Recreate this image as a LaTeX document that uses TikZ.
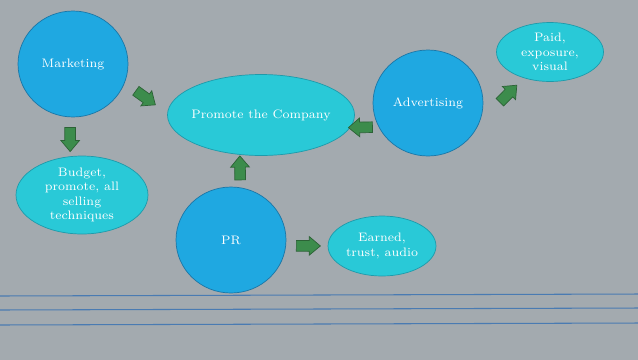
\documentclass[tikz,border=0pt]{standalone}
\usetikzlibrary{shapes.geometric, shapes.arrows}
\definecolor{slidebg}{HTML}{A3AAAF}
\definecolor{bubblefill}{HTML}{1FA8E1}
\definecolor{bubbleline}{HTML}{1B76A6}
\definecolor{ovalfill}{HTML}{29C9D7}
\definecolor{ovalline}{HTML}{1E9AAA}
\definecolor{arrfill}{HTML}{3C8C4C}
\definecolor{arrline}{HTML}{2C6236}
\definecolor{rule}{HTML}{4A7BB2}

\begin{document}
\begin{tikzpicture}[x=0.02cm, y=-0.02cm, font=\fontsize{7}{8.2}\selectfont,
    bubble/.style={draw=bubbleline, fill=bubblefill, ellipse, minimum width=2.2cm, minimum height=2.12cm, text=white, inner sep=0pt},
    oval/.style={draw=ovalline, fill=ovalfill, ellipse, text=white, align=center, inner sep=-2pt},
    blockarr/.style={single arrow, draw=arrline, fill=arrfill, minimum height=0.48cm,
        single arrow head extend=0.08cm, single arrow tip angle=80, inner xsep=0pt, inner ysep=0.1cm, sloped, allow upside down}]
    % slide background
    \useasboundingbox (0,0) rectangle (638,359);
    \fill[slidebg] (-2,-2) rectangle (640,361);
    \foreach \y/\yy in {296/294, 310/308, 325/323}
        \draw[rule, line width=0.6pt] (-2,\y) -- (640,\yy);

    \node[bubble] (mkt) at (73,64) {Marketing};
    \node[oval, minimum width=3.56cm, minimum height=1.62cm] (prom) at (261,115) {Promote the Company};
    \node[bubble] (adv) at (428,103) {Advertising};
    \node[oval, minimum width=2.14cm, minimum height=1.18cm] (paid) at (550,52) {Paid,\\exposure,\\visual};
    \node[oval, minimum width=2.64cm, minimum height=1.56cm] (bud) at (82,195) {Budget,\\promote, all\\selling\\techniques};
    \node[bubble] (pr) at (231,240) {PR};
    \node[oval, minimum width=2.16cm, minimum height=1.2cm] (ern) at (382,246) {Earned,\\trust, audio};

    % block arrows
    \path (mkt.-20) -- node[blockarr, pos=0.43] (a1) {} (prom.179);
    \path (mkt.-93) -- node[blockarr, pos=0.49] (a2) {} (bud.107);
    \path (pr.80) -- node[blockarr, pos=0.5] (a3) {} (prom.-118);
    \path (adv.-154) -- node[blockarr, pos=0.53] (a4) {} (prom.-8);
    \path (adv.-21) -- node[blockarr, pos=0.6] (a5) {} (paid.-135);
    \path (pr.-6) -- node[blockarr, pos=0.46] (a6) {} (ern.180);
\end{tikzpicture}
\end{document}
